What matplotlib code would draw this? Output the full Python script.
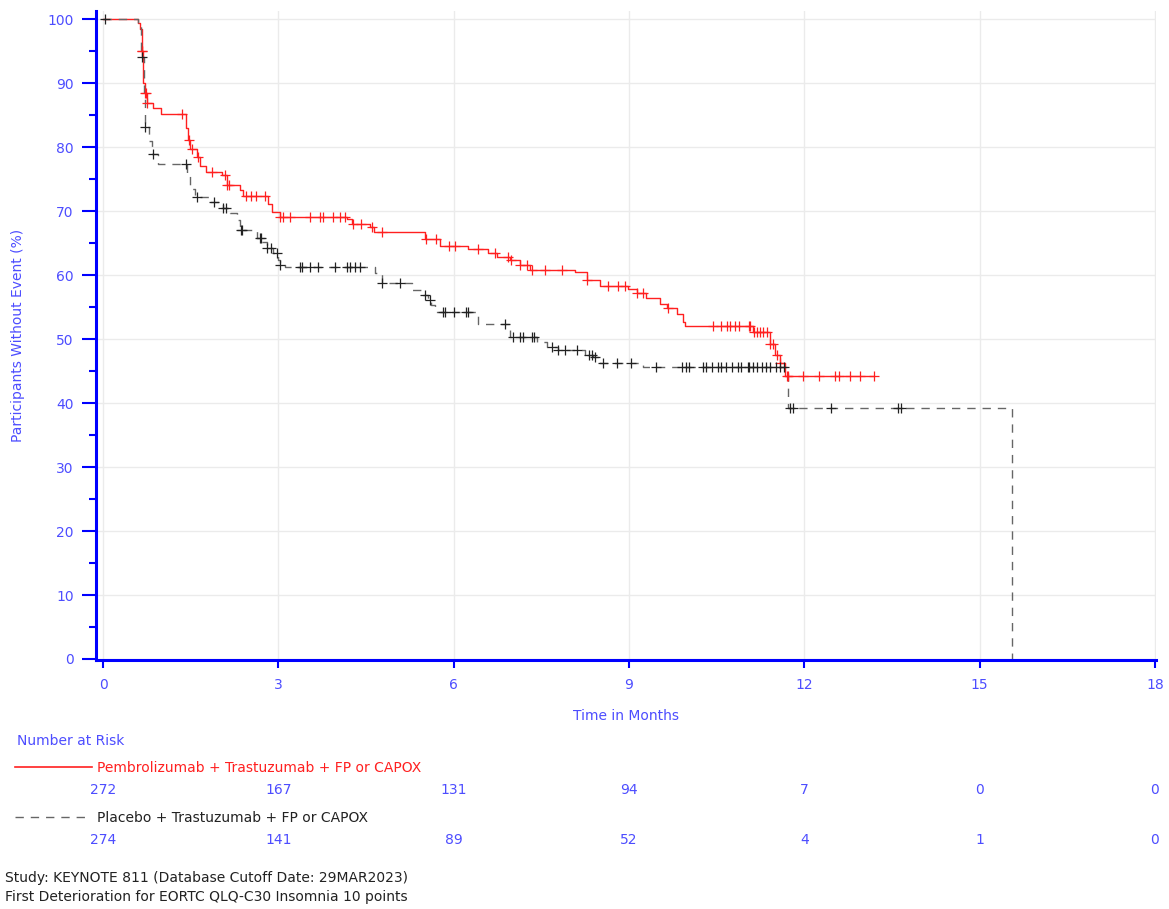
import numpy as np
import matplotlib
matplotlib.use('Agg')
import matplotlib.pyplot as plt
from matplotlib.lines import Line2D
from matplotlib.transforms import blended_transform_factory

# ---- data ----
# Pembrolizumab arm: step times (months) and % without event after each step
pem_t = [0, 0.60, 0.64, 0.66, 0.68, 0.72, 0.75, 0.86, 1.00, 1.42, 1.45, 1.49, 1.60,
         1.66, 1.77, 2.03, 2.12, 2.34, 2.40, 2.82, 2.90, 3.03, 4.17, 4.26, 4.57, 4.63,
         5.51, 5.77, 6.25, 6.59, 6.74, 6.96, 7.14, 7.30, 8.08, 8.28, 8.50, 8.98, 9.13,
         9.30, 9.53, 9.65, 9.82, 9.93, 9.96, 11.13, 11.41, 11.50, 11.58, 11.67]
pem_s = [100, 99.5, 98.5, 95.0, 90.0, 88.5, 86.9, 86.1, 85.2, 83.0, 81.1, 79.8, 78.5,
         77.1, 76.1, 75.6, 74.1, 73.3, 72.4, 71.2, 69.9, 69.1, 68.8, 68.0, 67.5, 66.8,
         65.7, 64.5, 64.1, 63.5, 62.9, 62.3, 61.6, 60.8, 60.5, 59.2, 58.3, 57.8, 57.2,
         56.4, 55.5, 54.8, 54.0, 52.7, 52.0, 51.1, 49.3, 47.5, 46.2, 44.3]
pem_end = 13.19
pem_cens = [0.66, 0.67, 0.72, 0.73, 0.75, 1.35, 1.47, 1.52, 1.62, 1.86, 2.09, 2.12, 2.15,
            2.45, 2.54, 2.61, 2.78, 3.03, 3.08, 3.20, 3.54, 3.71, 3.77, 3.94, 4.05, 4.14,
            4.27, 4.42, 4.60, 4.77, 5.52, 5.70, 5.92, 6.03, 6.42, 6.71, 6.93, 6.99, 7.14,
            7.25, 7.34, 7.56, 7.85, 8.29, 8.65, 8.81, 8.93, 9.13, 9.24, 9.67, 10.44, 10.58,
            10.67, 10.73, 10.82, 10.88, 11.05, 11.08, 11.14, 11.19, 11.25, 11.30, 11.36,
            11.42, 11.47, 11.53, 11.58, 11.70, 11.73, 11.98, 12.26, 12.52, 12.59, 12.78,
            12.95, 13.19]

# Placebo arm
pla_t = [0, 0.60, 0.65, 0.70, 0.72, 0.78, 0.83, 0.94, 1.43, 1.49, 1.57, 1.83, 2.05, 2.17,
         2.29, 2.34, 2.63, 2.72, 2.80, 2.91, 3.00, 3.03, 3.11, 4.65, 4.77, 5.28, 5.48,
         5.56, 5.62, 5.68, 6.42, 6.96, 7.42, 7.60, 7.79, 8.25, 8.39, 8.50, 9.24, 11.72, 15.55]
pla_s = [100, 99.0, 94.1, 88.0, 83.2, 81.0, 79.0, 77.4, 75.6, 73.5, 72.2, 71.5, 70.5, 69.7,
         68.6, 67.0, 65.8, 65.2, 64.2, 63.4, 62.3, 61.6, 61.3, 60.3, 58.8, 57.7, 56.9,
         56.1, 55.3, 54.3, 52.3, 50.4, 49.6, 48.8, 48.3, 47.5, 47.2, 46.3, 45.7, 39.2, 0]
pla_cens = [0.03, 0.66, 0.72, 0.85, 1.42, 1.60, 1.90, 2.05, 2.11, 2.36, 2.37, 2.69, 2.71,
            2.80, 2.88, 2.97, 3.03, 3.37, 3.40, 3.54, 3.68, 3.97, 4.17, 4.23, 4.31, 4.40,
            4.77, 5.08, 5.51, 5.60, 5.82, 5.85, 6.00, 6.22, 6.25, 6.88, 7.02, 7.13, 7.19,
            7.34, 7.37, 7.68, 7.79, 7.91, 8.11, 8.31, 8.36, 8.42, 8.56, 8.79, 9.04, 9.46,
            9.90, 9.97, 10.03, 10.26, 10.32, 10.43, 10.52, 10.57, 10.66, 10.77, 10.86,
            10.92, 11.03, 11.06, 11.12, 11.20, 11.28, 11.34, 11.42, 11.51, 11.59, 11.65,
            11.76, 11.80, 12.46, 13.61, 13.65]

risk_times = [0, 3, 6, 9, 12, 15, 18]
pem_risk = [272, 167, 131, 94, 7, 0, 0]
pla_risk = [274, 141, 89, 52, 4, 1, 0]

pem_label = 'Pembrolizumab + Trastuzumab + FP or CAPOX'
pla_label = 'Placebo + Trastuzumab + FP or CAPOX'

BLUE = '#0000ff'
LBLUE = '#4d4dff'
RED = '#ff2020'


def step_value(t, s, x):
    i = np.searchsorted(t, x, side='right') - 1
    return np.asarray(s)[i]


W, H = 1169, 909
fig = plt.figure(figsize=(W / 100, H / 100), dpi=100)
ax = fig.add_axes([96 / W, 1 - 660 / H, (1156 - 96) / W, (660 - 11) / H])

# curves
ax.step(pem_t + [pem_end], pem_s + [pem_s[-1]], where='post', color=RED, lw=1.0)
ax.step(pla_t, pla_s, where='post', color='#666666', lw=1.0, ls=(0, (6, 5)))
ax.plot(pem_cens, step_value(pem_t, pem_s, pem_cens), ls='none', marker='+',
        ms=7, mew=0.9, color=RED)
ax.plot(pla_cens, step_value(pla_t, pla_s, pla_cens), ls='none', marker='+',
        ms=7, mew=0.9, color='#222222')

ax.set_xlim(-0.12, 18.02)
ax.set_ylim(-0.16, 101.3)
ax.set_xticks(risk_times)
ax.set_yticks(range(0, 101, 10))
ax.set_yticks(range(5, 100, 10), minor=True)
ax.grid(True, color='#ebebeb', lw=1)
ax.set_axisbelow(True)

for side in ['top', 'right']:
    ax.spines[side].set_visible(False)
for side in ['left', 'bottom']:
    ax.spines[side].set_color(BLUE)
    ax.spines[side].set_linewidth(2.2)

ax.tick_params(axis='y', which='major', length=10, width=1.5, color=BLUE,
               labelcolor=LBLUE, labelsize=10, pad=6)
ax.tick_params(axis='y', which='minor', length=5, width=1.5, color=BLUE)
ax.tick_params(axis='x', which='major', length=6, width=1.5, color=BLUE,
               labelcolor=LBLUE, labelsize=10, pad=7)

ax.set_xlabel('Time in Months', color=LBLUE, fontsize=10, labelpad=12)
ax.set_ylabel('Participants Without Event (%)', color=LBLUE, fontsize=10, labelpad=16)

# number at risk table
def fy(py):
    return 1 - py / H

fig.text(17 / W, fy(741), 'Number at Risk', color=LBLUE, fontsize=10, va='center')
fig.add_artist(Line2D([15 / W, 92 / W], [fy(767), fy(767)], color=RED, lw=1.2))
fig.text(97 / W, fy(768), pem_label, color=RED, fontsize=10, va='center')
fig.add_artist(Line2D([15 / W, 90 / W], [fy(817), fy(817)], color='#666666', lw=1.0,
                      ls=(0, (6, 5))))
fig.text(97 / W, fy(818), pla_label, color='#222222', fontsize=10, va='center')

tr = blended_transform_factory(ax.transData, fig.transFigure)
for x, a, b in zip(risk_times, pem_risk, pla_risk):
    fig.text(x, fy(790), str(a), transform=tr, ha='center', va='center',
             color=LBLUE, fontsize=10)
    fig.text(x, fy(840), str(b), transform=tr, ha='center', va='center',
             color=LBLUE, fontsize=10)

fig.text(5 / W, fy(878), 'Study: KEYNOTE 811 (Database Cutoff Date: 29MAR2023)',
         color='#222222', fontsize=10, va='center')
fig.text(5 / W, fy(897), 'First Deterioration for EORTC QLQ-C30 Insomnia 10 points',
         color='#222222', fontsize=10, va='center')

fig.savefig('out.png', dpi=100)
